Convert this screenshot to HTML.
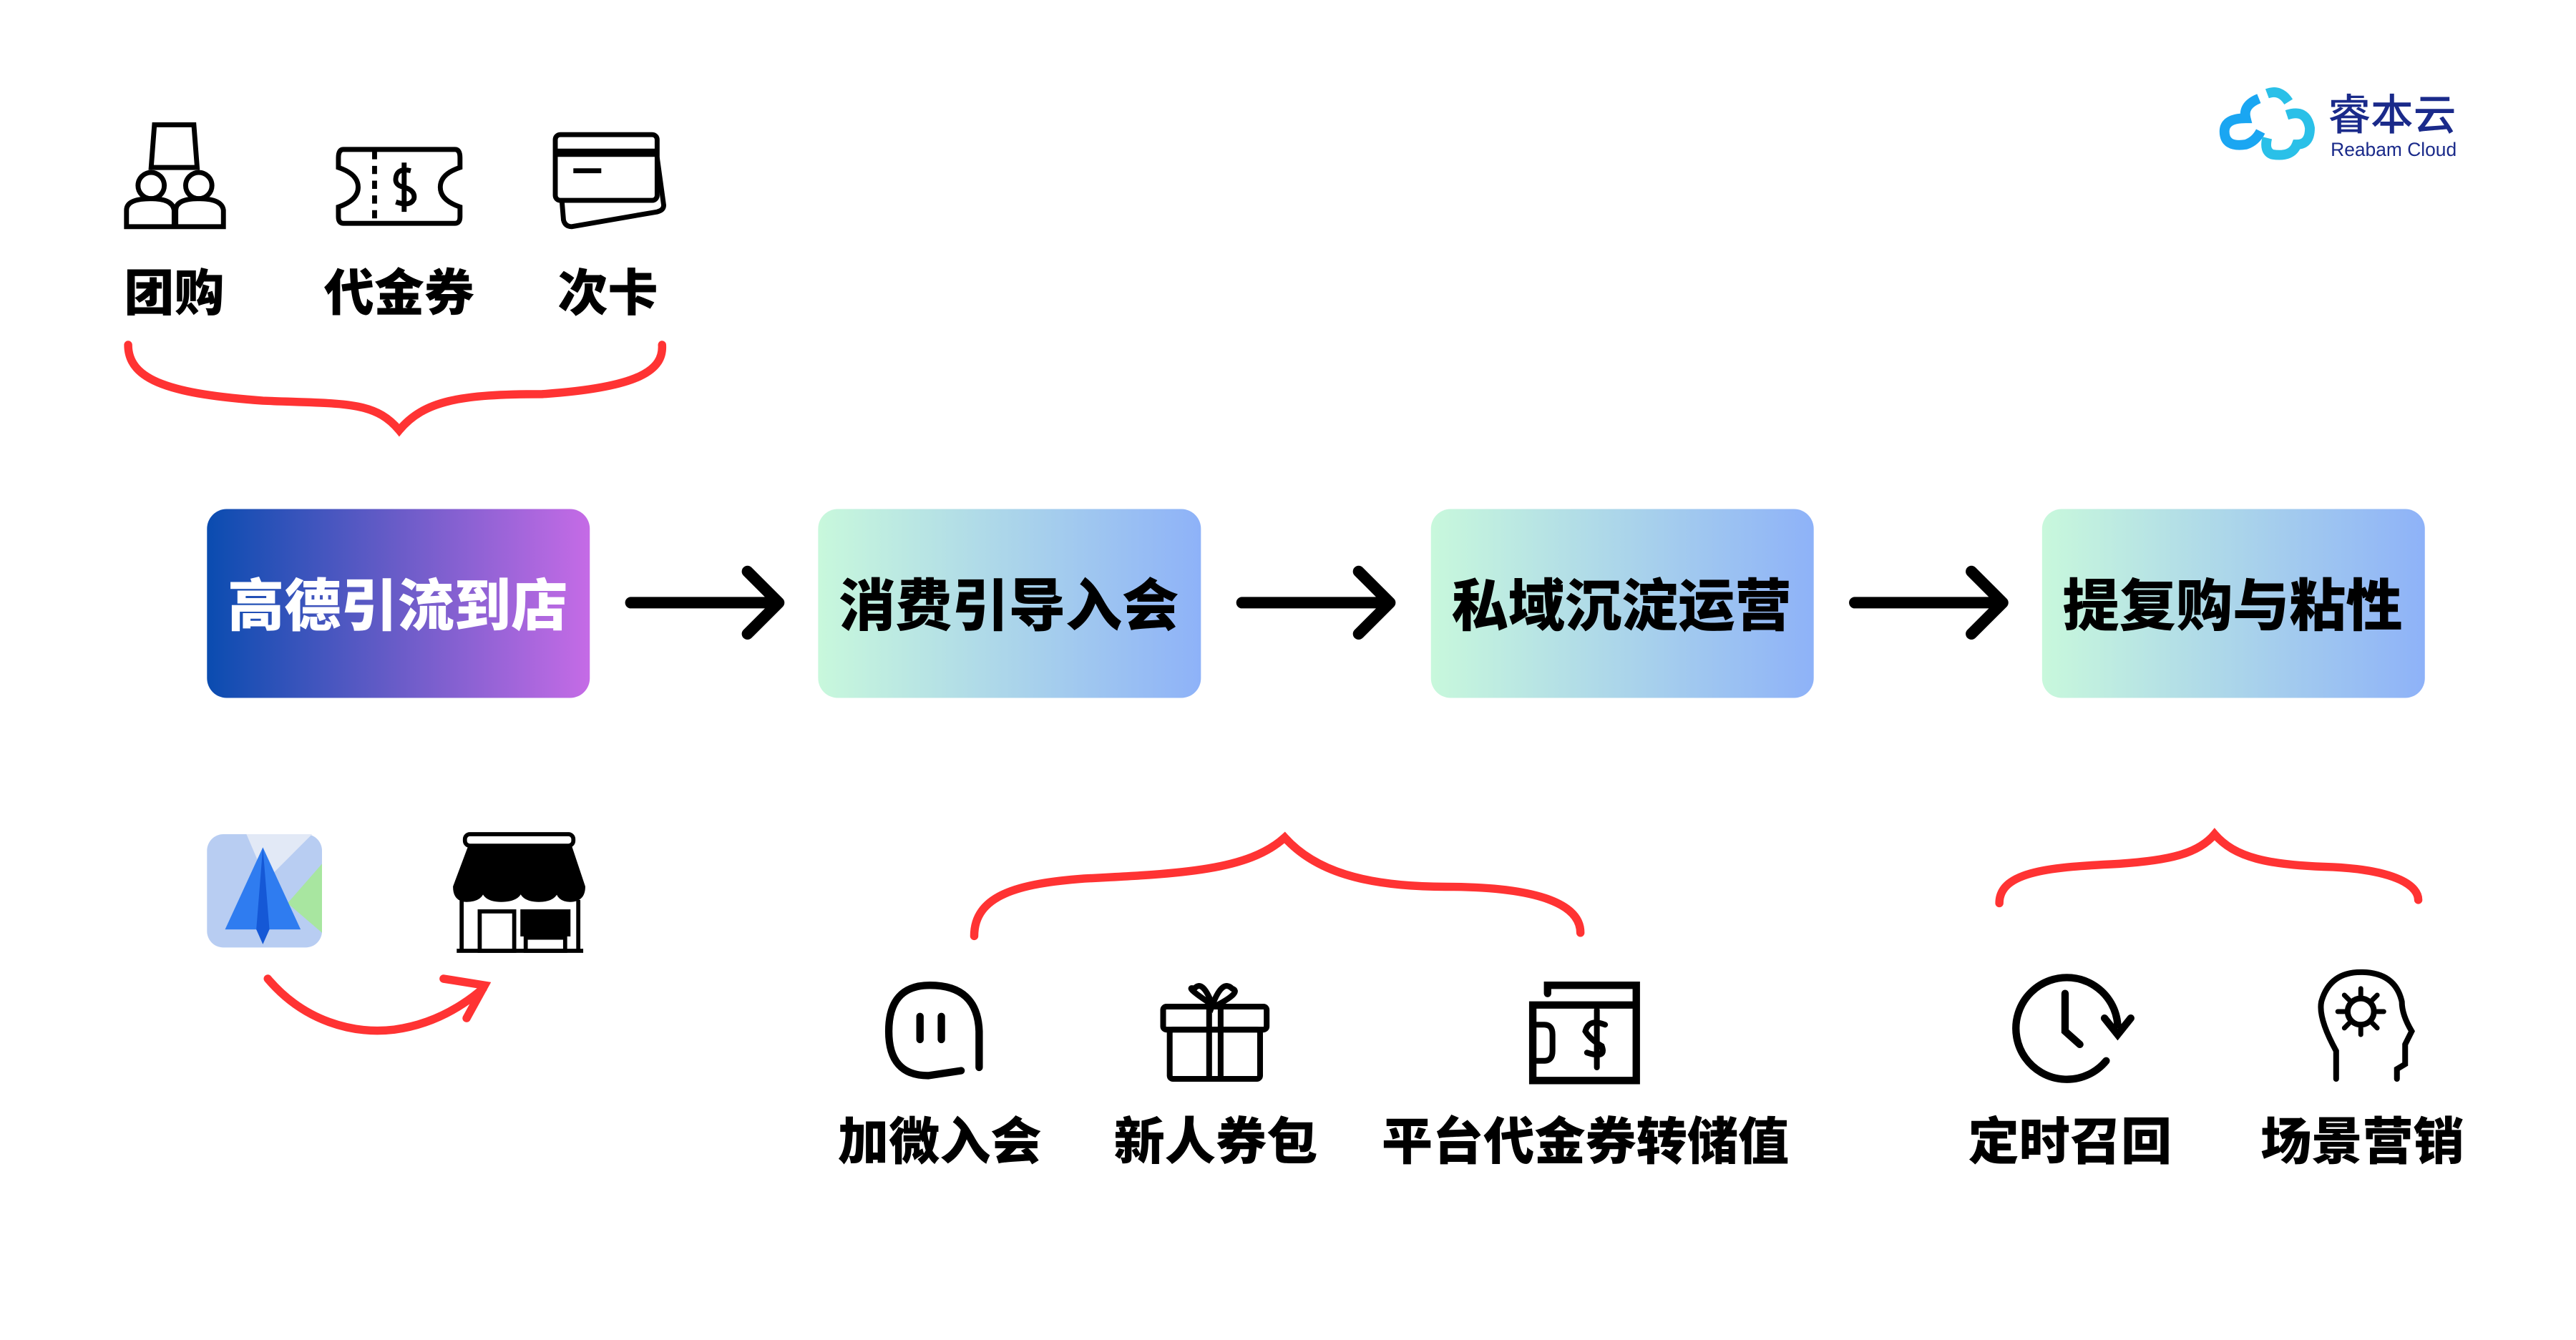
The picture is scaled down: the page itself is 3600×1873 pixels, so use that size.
<!DOCTYPE html>
<html><head><meta charset="utf-8"><style>
html,body{margin:0;padding:0;background:#fff;}
svg{display:block;}
text{font-family:"Liberation Sans","Noto Sans CJK SC",sans-serif;font-weight:900;}
</style></head><body>
<svg width="3600" height="1873" viewBox="0 0 1568 816" preserveAspectRatio="none" xmlns="http://www.w3.org/2000/svg">
<defs>
<linearGradient id="g1" x1="0" x2="1" y1="0" y2="0"><stop offset="0" stop-color="#0a4cb0"/><stop offset="0.5" stop-color="#6a5cc8"/><stop offset="1" stop-color="#c56be6"/></linearGradient>
<linearGradient id="g2" x1="0" x2="1" y1="0" y2="0"><stop offset="0" stop-color="#c8f8dc"/><stop offset="1" stop-color="#8eb2f8"/></linearGradient>
</defs>
<rect width="1568" height="816" fill="#fff"/>
<rect x="126" y="310" width="233" height="115" rx="12" fill="url(#g1)"/>
<rect x="498" y="310" width="233" height="115" rx="12" fill="url(#g2)"/>
<rect x="871" y="310" width="233" height="115" rx="12" fill="url(#g2)"/>
<rect x="1243" y="310" width="233" height="115" rx="12" fill="url(#g2)"/>
<g font-size="34.5" text-anchor="middle">
<text x="242" y="381" fill="#fff">高德引流到店</text>
<text x="614" y="381" fill="#000">消费引导入会</text>
<text x="987" y="381" fill="#000">私域沉淀运营</text>
<text x="1359" y="381" fill="#000">提复购与粘性</text>
</g>
<g stroke="#000" stroke-width="7" fill="none" stroke-linecap="round" stroke-linejoin="round">
<path d="M384 367H474M455 348L474 367L455 386"/>
<path d="M756 367H846M827 348L846 367L827 386"/>
<path d="M1129 367H1219M1200 348L1219 367L1200 386"/>
</g>
<g stroke="#f33" stroke-width="5" fill="none" stroke-linecap="round">
<path d="M78 210C78 232 105 240 160 244C210 246 228 244 243 262C258 244 280 240 330 240C390 236 404 225 403 210"/>
<path d="M593 570C593 545 620 538 660 535C720 532 760 530 782 510C800 530 830 540 880 540C940 540 962 552 962 568"/>
<path d="M1217 550C1217 530 1250 528 1290 526C1320 524 1338 520 1348 508C1360 522 1380 527 1420 528C1460 530 1472 540 1472 548"/>
<path d="M163 596C185 622 215 630 240 627C262 624 280 614 294 602M270 596L295 600L284 620"/>
</g>
<g font-size="30.5" text-anchor="middle" fill="#000">
<text x="106" y="189">团购</text>
<text x="243" y="189">代金券</text>
<text x="370" y="189">次卡</text>
</g>
<g font-size="31" text-anchor="middle" fill="#000">
<text x="572" y="706">加微入会</text>
<text x="740" y="706">新人券包</text>
<text x="965" y="706">平台代金券转储值</text>
<text x="1260" y="706">定时召回</text>
<text x="1438" y="706">场景营销</text>
</g>
<g stroke="#000" stroke-width="3" fill="none">
<path d="M94 76H118L120 102H92Z"/>
<circle cx="92" cy="113" r="8"/><circle cx="121" cy="113" r="8"/>
<path d="M77 138V128Q77 121 92 121Q105 121 106 128V138ZM107 138V128Q107 121 121 121Q135 121 136 128V138Z"/>
<path d="M209 91H277Q280 91 280 96V102Q268 106 268 114Q268 122 280 126V132Q280 136 277 136H209Q206 136 206 132V126Q218 122 218 114Q218 106 206 102V96Q206 91 209 91Z"/>
<path d="M228 92V136" stroke-dasharray="5 4"/>
<path d="M250 104Q242 102 241 108Q240 113 246 114Q253 116 252 121Q250 126 241 123M246 99V129"/>
<rect x="338" y="82" width="62" height="40" rx="3"/>
<path d="M400 96L404 125Q404 128 400 129L348 138Q344 138 343 134L342 122"/>
<path d="M339 93H399" stroke-width="5"/><path d="M349 104H366"/>
</g>
<rect x="126" y="508" width="70" height="69" rx="10" fill="#b8cdf2"/>
<path d="M150 508H190L162 536Z" fill="#e2e9f6"/>
<path d="M196 526V568L175 550Z" fill="#a8e6a0"/>
<path d="M160 516L183 566H137Z" fill="#2f7cf0"/>
<path d="M160 516L164 566L160 575L156 566Z" fill="#1558d6"/>
<g stroke="#000" stroke-width="2.5" fill="none">
<rect x="283" y="508" width="66" height="7" rx="3"/>
<path d="M286 516H347L355 540Q355 548 347 548Q340 548 339 541Q338 548 328 548Q318 548 317 541Q316 548 305 548Q295 548 294 541Q293 548 284 548Q277 548 277 540Z" fill="#000"/>
<path d="M281 548V578M352 548V578M278 579H355"/>
<rect x="292" y="555" width="21" height="24"/>
<rect x="318" y="555" width="28" height="14" fill="#000"/>
<rect x="320" y="571" width="24" height="8"/>
</g>
<g stroke="#000" stroke-width="4.5" fill="none" stroke-linecap="round">
<path d="M585 652L565 655Q541 655 541 628Q541 600 566 600Q595 600 596 628V650"/>
<path d="M560 619V633M573 619V633"/>
<rect x="708" y="613" width="63" height="14" rx="2" stroke-width="3.5"/>
<rect x="712" y="627" width="55" height="30" rx="2" stroke-width="3.5"/>
<path d="M736 613V657M743 613V657M738 612Q720 600 727 602Q732 596 738 612Q744 596 750 602Q756 604 741 612" stroke-width="3.5"/>
<path d="M942 605V600H996V612M933 612H996V658H933Z" stroke-width="4.5"/>
<path d="M933 624H940Q945 624 945 630V640Q945 646 940 646H933M972 615V650M977 624Q967 620 965 628Q968 633 975 637Q978 645 966 641" stroke-width="3.5"/>
<path d="M1282 646A31 31 0 1 1 1289 624M1257 605V628L1266 636M1281 620L1289 630L1297 620" stroke-width="4.5"/>
<path d="M1422 657V640Q1411 620 1413 610Q1418 592 1437 592Q1458 592 1462 610Q1462 618 1468 628L1464 636V648L1459 651V657" stroke-width="3.5"/>
<circle cx="1437" cy="616" r="8" stroke-width="3.5"/>
<path d="M1437 602V606M1437 626V630M1423 616H1427M1447 616H1451M1427 606L1430 609M1444 623L1447 626M1447 606L1444 609M1430 623L1427 626" stroke-width="3"/>
</g>
<g fill="none" stroke-width="6">
<path d="M1375 60Q1365 64 1367 72Q1354 72 1354 80Q1354 90 1367 88Q1373 86 1376 80" stroke="#1aa6f2"/>
<path d="M1380 57Q1388 54 1393 62M1392 70Q1404 66 1406 78Q1406 88 1398 88Q1395 96 1383 94Q1378 92 1380 84" stroke="#2ac0e8"/>
</g>
<text x="1456" y="79" font-size="26" fill="#1a2a8a" text-anchor="middle" style="font-weight:500">睿本云</text>
<text x="1457" y="95" font-size="11.5" fill="#1a2a8a" text-anchor="middle" style="font-weight:400">Reabam Cloud</text>
</svg>
</body></html>
